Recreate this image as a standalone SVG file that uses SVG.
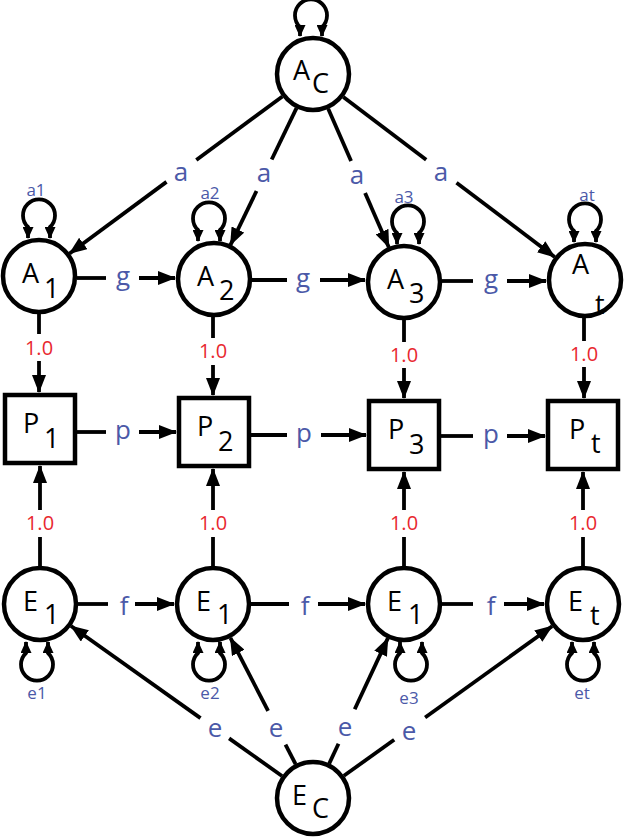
<svg xmlns="http://www.w3.org/2000/svg" width="625" height="839" viewBox="0 0 625 839">
<defs>
<marker id="ah" markerUnits="userSpaceOnUse" markerWidth="18" markerHeight="14" viewBox="0 0 18 14" refX="17" refY="7" orient="auto"><path d="M0,0 L18,7 L0,14 z" fill="#000"/></marker>
<marker id="lh" markerUnits="userSpaceOnUse" markerWidth="12" markerHeight="11" viewBox="0 0 12 11" refX="11" refY="5.5" orient="auto-start-reverse"><path d="M0,0 L12,5.5 L0,11 z" fill="#000"/></marker>
</defs>
<style>
.n{fill:#fff;stroke:#000;stroke-width:4.5}
.l{stroke:#000;stroke-width:3.8;fill:none}
.ar{stroke:#000;stroke-width:3.8;fill:none;marker-end:url(#ah)}
.lp{stroke:#000;stroke-width:3.8;fill:none;marker-start:url(#lh);marker-end:url(#lh)}
.t{font-family:"Open Sans","Liberation Sans",sans-serif;font-size:27px;fill:#000}
.b{font-family:"Open Sans","Liberation Sans",sans-serif;font-size:26px;fill:#4b59a8;text-anchor:middle}
.s{font-family:"Open Sans","Liberation Sans",sans-serif;font-size:17px;fill:#4b59a8;text-anchor:middle}
.r{font-family:"Open Sans","Liberation Sans",sans-serif;font-size:20px;fill:#e8282f;text-anchor:middle}
</style>
<rect width="625" height="839" fill="#fff"/>

<g id="AC"><circle class="n" cx="313" cy="74" r="36"/><text class="t" x="293" y="80">A</text><text class="t" x="312" y="93">C</text></g>
<g id="A1"><circle class="n" cx="39" cy="276" r="36"/><text class="t" x="22" y="283">A</text><text class="t" x="44" y="298">1</text></g>
<g id="A2"><circle class="n" cx="214" cy="279" r="36"/><text class="t" x="197" y="286">A</text><text class="t" x="219" y="300">2</text></g>
<g id="A3"><circle class="n" cx="404" cy="282" r="36"/><text class="t" x="387" y="289">A</text><text class="t" x="409" y="303">3</text></g>
<g id="At"><circle class="n" cx="585" cy="280" r="36"/><text class="t" x="572" y="274">A</text><text class="t" x="595" y="314">t</text></g>
<g id="P1"><rect class="n" x="5" y="395" width="70" height="68"/><text class="t" x="23" y="433">P</text><text class="t" x="44" y="448">1</text></g>
<g id="P2"><rect class="n" x="179" y="398" width="70" height="68"/><text class="t" x="197" y="436">P</text><text class="t" x="218" y="451">2</text></g>
<g id="P3"><rect class="n" x="369" y="401" width="70" height="68"/><text class="t" x="388" y="439">P</text><text class="t" x="409" y="454">3</text></g>
<g id="Pt"><rect class="n" x="548" y="401" width="70" height="68"/><text class="t" x="569" y="439">P</text><text class="t" x="591" y="453">t</text></g>
<g id="E1"><circle class="n" cx="40" cy="604" r="36"/><text class="t" x="23" y="611">E</text><text class="t" x="44" y="624">1</text></g>
<g id="E2"><circle class="n" cx="213" cy="604" r="36"/><text class="t" x="196" y="611">E</text><text class="t" x="217" y="624">1</text></g>
<g id="E3"><circle class="n" cx="404" cy="604" r="36"/><text class="t" x="387" y="611">E</text><text class="t" x="408" y="624">1</text></g>
<g id="Et"><circle class="n" cx="583" cy="604" r="36"/><text class="t" x="568" y="611">E</text><text class="t" x="590" y="625">t</text></g>
<g id="EC"><circle class="n" cx="313" cy="798" r="36"/><text class="t" x="292" y="805">E</text><text class="t" x="312" y="818">C</text></g>

<g id="connectors">
<path class="lp" d="M300,36 L300,27 A16 16 0 1 1 322,27 L322,36"/>
<path class="lp" d="M28,238 L28,227 A16 16 0 1 1 50,227 L50,238"/>
<path class="lp" d="M198,241 L198,230 A16 16 0 1 1 220,230 L220,241"/>
<path class="lp" d="M397,244 L397,233 A16 16 0 1 1 419,233 L419,244"/>
<path class="lp" d="M574,242 L574,231 A16 16 0 1 1 596,231 L596,242"/>
<path class="lp" d="M26,642 L26,653 A16 16 0 1 0 48,653 L48,642"/>
<path class="lp" d="M198,642 L198,653 A16 16 0 1 0 220,653 L220,642"/>
<path class="lp" d="M400,642 L400,653 A16 16 0 1 0 422,653 L422,642"/>
<path class="lp" d="M572,642 L572,653 A16 16 0 1 0 594,653 L594,642"/>
<text class="s" x="36" y="196">a1</text>
<text class="s" x="210" y="199">a2</text>
<text class="s" x="404" y="203">a3</text>
<text class="s" x="587" y="201">at</text>
<text class="s" x="37" y="699">e1</text>
<text class="s" x="210" y="699">e2</text>
<text class="s" x="409" y="704">e3</text>
<text class="s" x="582" y="699">et</text>

<line class="l" x1="282.4" y1="96.5" x2="196.3" y2="160"/><line class="ar" x1="166.5" y1="181.9" x2="69.6" y2="253.5"/>
<line class="l" x1="296.5" y1="108.2" x2="271.7" y2="159.5"/><line class="ar" x1="256.5" y1="191" x2="230.5" y2="244.8"/>
<line class="l" x1="328.2" y1="108.8" x2="351.1" y2="161"/><line class="ar" x1="365.1" y1="193.1" x2="388.8" y2="247.2"/>
<line class="l" x1="343.3" y1="97" x2="426.2" y2="159.8"/><line class="ar" x1="456.5" y1="182.7" x2="554.7" y2="257"/>
<text class="b" x="181" y="181">a</text>
<text class="b" x="264" y="182">a</text>
<text class="b" x="357" y="184">a</text>
<text class="b" x="441" y="181">a</text>

<line class="l" x1="77" y1="278" x2="106" y2="278"/><line class="ar" x1="139" y1="278" x2="175" y2="278"/>
<line class="l" x1="252" y1="280" x2="287" y2="280"/><line class="ar" x1="320" y1="280" x2="365" y2="280"/>
<line class="l" x1="442" y1="281" x2="473" y2="281"/><line class="ar" x1="507" y1="281" x2="546" y2="281"/>
<text class="b" x="123" y="285">g</text>
<text class="b" x="303" y="287">g</text>
<text class="b" x="491" y="288">g</text>

<line class="l" x1="39" y1="314" x2="39" y2="334"/><line class="ar" x1="39" y1="361" x2="39" y2="392"/>
<line class="l" x1="213" y1="317" x2="213" y2="338"/><line class="ar" x1="213" y1="365" x2="213" y2="395"/>
<line class="l" x1="404" y1="320" x2="404" y2="342"/><line class="ar" x1="404" y1="368" x2="404" y2="398"/>
<line class="l" x1="584" y1="318" x2="584" y2="341"/><line class="ar" x1="584" y1="367" x2="584" y2="398"/>
<text class="r" x="39" y="355">1.0</text>
<text class="r" x="213" y="358">1.0</text>
<text class="r" x="404" y="362">1.0</text>
<text class="r" x="584" y="361">1.0</text>

<line class="l" x1="77" y1="432" x2="106" y2="432"/><line class="ar" x1="139" y1="432" x2="176" y2="432"/>
<line class="l" x1="251" y1="435" x2="287" y2="435"/><line class="ar" x1="321" y1="435" x2="366" y2="435"/>
<line class="l" x1="441" y1="436" x2="473" y2="436"/><line class="ar" x1="507" y1="436" x2="545" y2="436"/>
<text class="b" x="123" y="439">p</text>
<text class="b" x="304" y="442">p</text>
<text class="b" x="491" y="443">p</text>

<line class="l" x1="40" y1="566" x2="40" y2="537"/><line class="ar" x1="40" y1="510" x2="40" y2="466"/>
<line class="l" x1="213" y1="566" x2="213" y2="537"/><line class="ar" x1="213" y1="510" x2="213" y2="469"/>
<line class="l" x1="404" y1="566" x2="404" y2="537"/><line class="ar" x1="404" y1="510" x2="404" y2="472"/>
<line class="l" x1="583" y1="566" x2="583" y2="537"/><line class="ar" x1="583" y1="510" x2="583" y2="472"/>
<text class="r" x="40" y="530">1.0</text>
<text class="r" x="213" y="530">1.0</text>
<text class="r" x="404" y="530">1.0</text>
<text class="r" x="583" y="530">1.0</text>

<line class="l" x1="78" y1="604" x2="108" y2="604"/><line class="ar" x1="135" y1="604" x2="174" y2="604"/>
<line class="l" x1="251" y1="604" x2="289" y2="604"/><line class="ar" x1="318" y1="604" x2="365" y2="604"/>
<line class="l" x1="442" y1="604" x2="473" y2="604"/><line class="ar" x1="504" y1="604" x2="544" y2="604"/>
<text class="b" x="124" y="615">f</text>
<text class="b" x="305" y="615">f</text>
<text class="b" x="491" y="615">f</text>

<line class="l" x1="282" y1="776" x2="229.1" y2="738.4"/><line class="ar" x1="200.5" y1="718.1" x2="71" y2="626"/>
<line class="l" x1="295.6" y1="764.2" x2="285.5" y2="744.7"/><line class="ar" x1="268.1" y1="710.9" x2="230.4" y2="637.8"/>
<line class="l" x1="329.2" y1="763.6" x2="338.5" y2="743.7"/><line class="ar" x1="354.7" y1="709.3" x2="387.8" y2="638.4"/>
<line class="l" x1="343.9" y1="775.8" x2="394.2" y2="739.7"/><line class="ar" x1="425.1" y1="717.5" x2="552.1" y2="626.2"/>
<text class="b" x="215" y="737">e</text>
<text class="b" x="276" y="737">e</text>
<text class="b" x="345" y="736">e</text>
<text class="b" x="409" y="740">e</text>
</g>
</svg>
